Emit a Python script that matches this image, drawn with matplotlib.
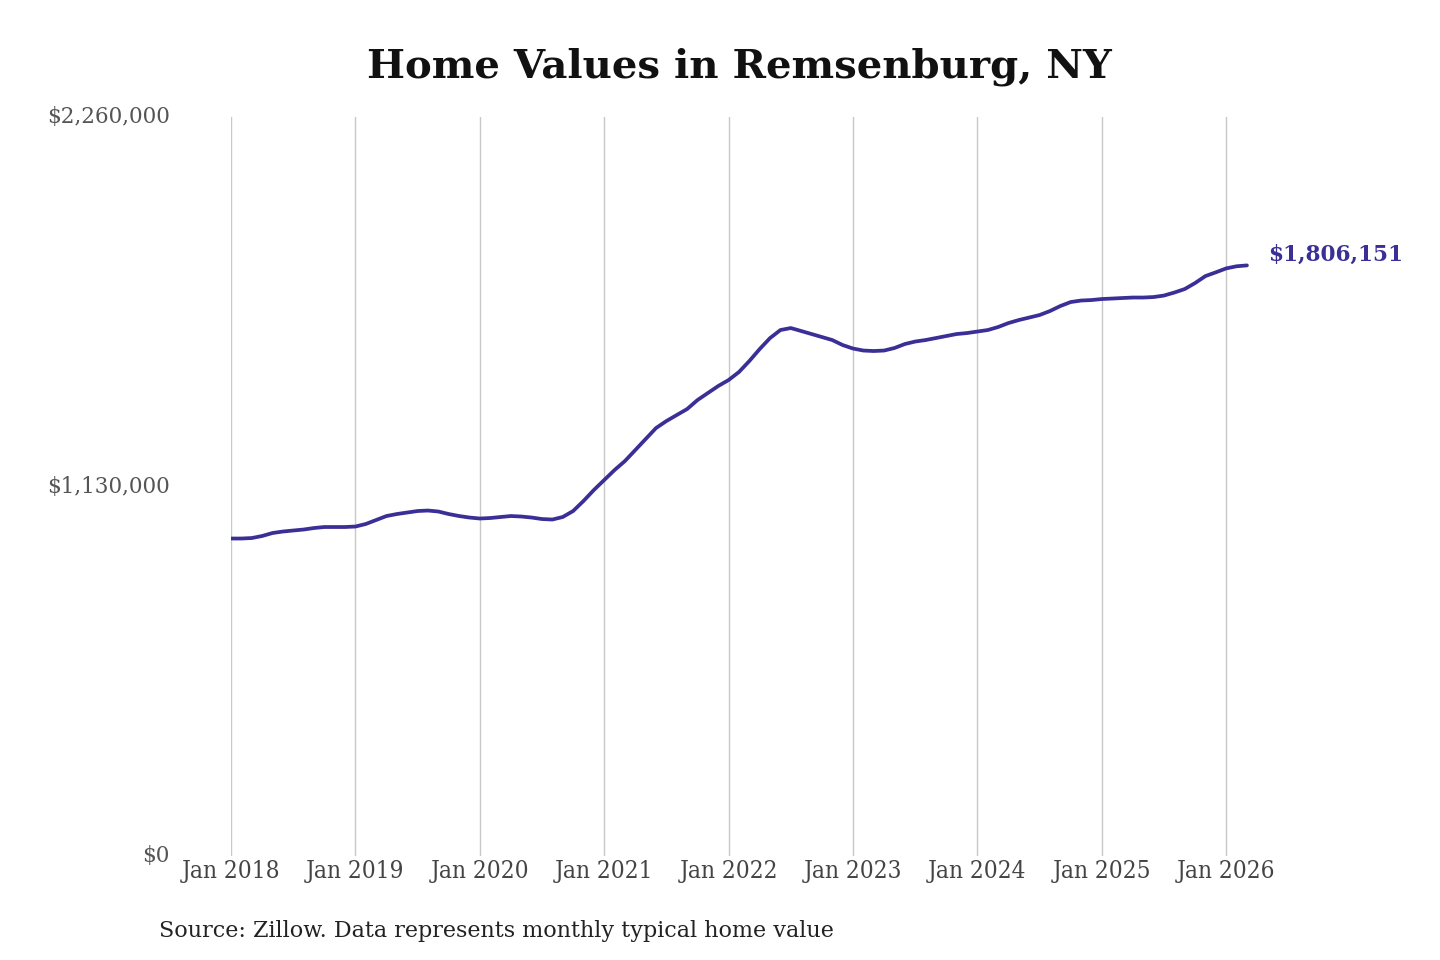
import matplotlib
matplotlib.use("Agg")
import matplotlib.pyplot as plt
import numpy as np

# Monthly typical home value, Jan 2018 .. Mar 2026
start_year = 2018
values = [
    # 2018
    970900, 970900, 972400, 978600, 987700, 992300, 995400, 998400, 1003000, 1006100, 1006100, 1006100,
    # 2019
    1007600, 1015300, 1027500, 1039700, 1045800, 1050400, 1055000, 1056500, 1053500, 1045800, 1039700, 1035100,
    # 2020
    1032100, 1033600, 1036700, 1039700, 1038200, 1035100, 1030500, 1029000, 1036700, 1055000, 1085600, 1119200,
    # 2021
    1149800, 1180400, 1207900, 1241500, 1275200, 1308800, 1330200, 1348600, 1366900, 1394400, 1415900, 1437300,
    # 2022
    1455600, 1480100, 1513700, 1550400, 1584000, 1608500, 1614600, 1605500, 1596300, 1587100, 1577900, 1562600,
    # 2023
    1551900, 1545800, 1544300, 1545800, 1553500, 1565700, 1573300, 1577900, 1584000, 1590200, 1596300, 1599300,
    # 2024
    1603900, 1608500, 1617700, 1629900, 1639100, 1646700, 1654400, 1666600, 1681900, 1694100, 1698700, 1700200,
    # 2025
    1703300, 1704800, 1706400, 1707900, 1707900, 1709400, 1714000, 1723200, 1733900, 1752200, 1773600, 1785000,
    # 2026
    1797000, 1803500, 1806151,
]
tick_years = list(range(2018, 2027))
tick_labels = [f"Jan {y}" for y in tick_years]
y_ticks = [0, 1130000, 2260000]
y_labels = ["$0", "$1,130,000", "$2,260,000"]
last_label = "$1,806,151"
title = "Home Values in Remsenburg, NY"
source = "Source: Zillow. Data represents monthly typical home value"

line_color = "#3a2f96"
W, H = 1440, 960
fig = plt.figure(figsize=(W / 100, H / 100), dpi=100)
plt.rcParams["font.family"] = ["DejaVu Serif"]

left_px, right_px, top_px, bottom_px = 231, 1250, 117, 856
ax = fig.add_axes([left_px / W, 1 - bottom_px / H, (right_px - left_px) / W, (bottom_px - top_px) / H])

x = np.array([start_year + i / 12 for i in range(len(values))])
ax.plot(x, values, color=line_color, lw=2.7, solid_capstyle="round", solid_joinstyle="round", zorder=3)

year_px = 124.4
ax.set_xlim(2018, 2018 + (right_px - left_px) / year_px)
ax.set_ylim(0, 2260000)

ax.set_xticks(tick_years)
ax.set_xticklabels(tick_labels, fontsize=17.5, color="#444444", fontstretch="condensed")
ax.set_yticks(y_ticks)
ax.set_yticklabels(y_labels, fontsize=15.5, color="#555555")
ax.tick_params(axis="x", length=0, pad=3)
ax.tick_params(axis="y", length=0, pad=44)
for lbl in ax.get_yticklabels():
    lbl.set_verticalalignment("center")

ax.grid(axis="x", color="#c8c8c8", lw=1.0)
ax.grid(axis="y", visible=False)
for s in ax.spines.values():
    s.set_visible(False)

ax.annotate(last_label, xy=(x[-1], values[-1]), xytext=(15, 8), textcoords="offset points",
            fontsize=15.6, fontweight="bold", color=line_color, va="center", ha="left")

fig.text(739 / W, 1 - 67 / H, title, ha="center", va="center", fontsize=29, fontweight="bold", color="#111111")
fig.text(159 / W, 1 - 931 / H, source, ha="left", va="center", fontsize=16, color="#222222")

fig.savefig("out.png", dpi=100, facecolor="white")
